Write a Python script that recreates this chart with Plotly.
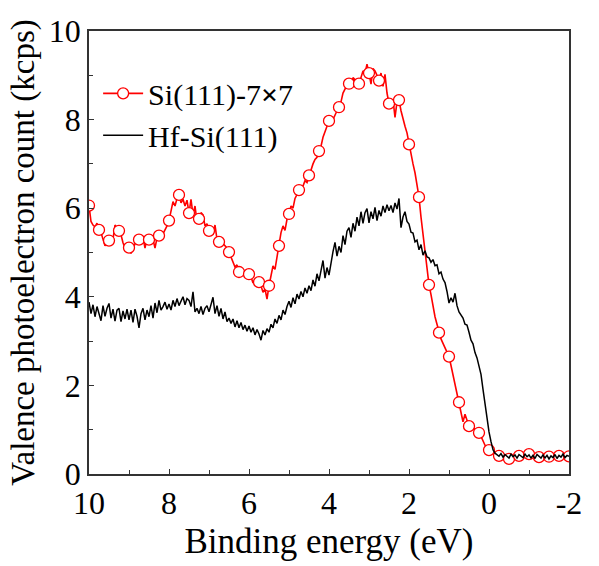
import plotly.graph_objects as go

# Binding energy axis (eV), 0.05 eV steps from 10 down to -2
energy = [round(10 - 0.05 * i, 2) for i in range(241)]

# Si(111)-7x7 (kcps)
si_7x7 = [
    6.06, 5.70, 5.62, 5.58, 5.66, 5.51, 5.45, 5.30, 5.15, 5.22,
    5.27, 5.35, 5.30, 5.62, 5.55, 5.49, 5.40, 5.22, 5.10, 5.18,
    5.11, 4.98, 5.10, 5.22, 5.30, 5.29, 5.20, 5.35, 5.10, 5.32,
    5.29, 5.24, 5.30, 5.10, 5.33, 5.38, 5.45, 5.42, 5.50, 5.60,
    5.72, 5.95, 6.15, 6.05, 6.22, 6.30, 6.12, 6.20, 6.05, 6.18,
    5.89, 6.20, 5.85, 6.05, 5.70, 5.76, 5.90, 5.85, 5.60, 5.65,
    5.49, 5.57, 5.40, 5.62, 5.30, 5.24, 5.28, 5.20, 5.15, 5.10,
    5.01, 4.90, 4.80, 4.67, 4.72, 4.56, 4.60, 4.52, 4.58, 4.48,
    4.51, 4.45, 4.31, 4.38, 4.28, 4.33, 4.25, 4.10, 4.18, 3.95,
    4.25, 4.45, 4.70, 4.62, 4.90, 5.15, 5.45, 5.60, 5.50, 5.75,
    5.87, 6.05, 6.00, 6.22, 6.30, 6.41, 6.48, 6.50, 6.62, 6.58,
    6.74, 6.90, 7.00, 7.10, 7.15, 7.29, 7.40, 7.60, 7.75, 7.85,
    7.97, 8.05, 8.00, 8.12, 8.20, 8.28, 8.40, 8.60, 8.70, 8.78,
    8.81, 8.70, 8.95, 8.90, 8.85, 8.81, 8.95, 9.10, 9.05, 9.25,
    9.05, 8.80, 9.15, 9.10, 9.00, 8.88, 9.05, 8.75, 9.02, 8.60,
    8.36, 8.30, 8.45, 8.05, 8.40, 8.44, 8.20, 8.00, 7.85, 7.70,
    7.44, 7.20, 7.00, 6.80, 6.55, 6.25, 5.80, 5.40, 5.00, 4.65,
    4.27, 4.05, 3.75, 3.55, 3.38, 3.19, 3.05, 2.95, 2.85, 2.72,
    2.65, 2.45, 2.25, 2.05, 1.85, 1.62, 1.40, 1.18, 1.35, 1.20,
    1.08, 1.12, 1.05, 1.00, 0.96, 0.93, 0.85, 0.73, 0.65, 0.58,
    0.54, 0.50, 0.46, 0.44, 0.42, 0.41, 0.43, 0.40, 0.38, 0.36,
    0.34, 0.38, 0.36, 0.40, 0.45, 0.41, 0.44, 0.42, 0.46, 0.43,
    0.45, 0.42, 0.40, 0.43, 0.39, 0.38, 0.36, 0.40, 0.37, 0.41,
    0.39, 0.42, 0.40, 0.38, 0.43, 0.41, 0.39, 0.42, 0.40, 0.38,
    0.40,
]

# Hf-Si(111) (kcps)
hf_si = [
    3.88, 3.62, 3.82, 3.55, 3.78, 3.64, 3.46, 3.80, 3.56, 3.74,
    3.85, 3.52, 3.72, 3.45, 3.70, 3.74, 3.44, 3.68, 3.50, 3.72,
    3.48, 3.70, 3.42, 3.72, 3.56, 3.30, 3.62, 3.74, 3.48, 3.70,
    3.55, 3.80, 3.52, 3.86, 3.64, 3.92, 3.70, 3.78, 3.88, 3.72,
    3.84, 3.70, 3.92, 3.78, 3.96, 3.80, 3.90, 4.00, 3.82, 3.96,
    3.92, 3.78, 4.11, 3.66, 3.74, 3.62, 3.78, 3.60, 3.74, 3.80,
    3.66, 3.86, 3.99, 3.62, 3.80, 3.56, 3.74, 3.50, 3.66, 3.44,
    3.52, 3.40, 3.50, 3.32, 3.46, 3.30, 3.42, 3.26, 3.36, 3.22,
    3.34, 3.20, 3.30, 3.14, 3.26, 3.16, 3.02, 3.24, 3.14, 3.28,
    3.20, 3.38, 3.30, 3.50, 3.40, 3.58, 3.48, 3.70, 3.60, 3.78,
    3.90, 3.76, 3.98, 3.84, 4.06, 3.95, 4.12, 4.00, 4.20, 4.08,
    4.25, 4.14, 4.38, 4.24, 4.52, 4.36, 4.58, 4.82, 4.42, 4.66,
    4.49, 4.78, 5.02, 5.23, 4.92, 5.14, 5.00, 5.38, 5.18, 5.48,
    5.56, 5.34, 5.66, 5.48, 5.80, 5.60, 5.92, 5.66, 5.90, 5.99,
    5.67, 5.92, 5.76, 6.02, 5.72, 5.95, 5.82, 6.05, 5.90, 6.08,
    5.94, 6.06, 5.90, 6.12, 5.98, 6.22, 5.56, 5.80, 5.92, 5.70,
    5.64, 5.46, 5.44, 5.24, 5.28, 5.06, 5.18, 4.94, 5.04, 4.90,
    4.88, 4.78, 4.84, 4.70, 4.72, 4.52, 4.56, 4.40, 4.32, 4.12,
    3.86, 3.98, 3.88, 4.08, 3.80, 3.66, 3.58, 3.52, 3.38, 3.36,
    3.20, 3.02, 2.94, 2.74, 2.62, 2.46, 2.25, 1.91, 1.55, 1.25,
    0.95, 0.73, 0.55, 0.47, 0.44, 0.40, 0.46, 0.38, 0.44, 0.40,
    0.36, 0.45, 0.39, 0.43, 0.36, 0.44, 0.40, 0.37, 0.45, 0.39,
    0.43, 0.36, 0.42, 0.35, 0.44, 0.39, 0.36, 0.43, 0.36, 0.42,
    0.34, 0.41, 0.37, 0.44, 0.35, 0.42, 0.38, 0.45, 0.37, 0.42,
    0.40,
]

marker_every = 5
x_ticks = [10, 8, 6, 4, 2, 0, -2]
x_tick_text = ["10", "8", "6", "4", "2", "0", "-2"]
y_ticks = [0, 2, 4, 6, 8, 10]

RED = "#ff0000"
INK = "#000000"
FONT = "Liberation Serif, serif"

fig = go.Figure()

fig.add_trace(go.Scatter(x=energy, y=si_7x7, mode="lines",
                         line=dict(color=RED, width=1.6),
                         showlegend=False))
fig.add_trace(go.Scatter(x=energy[::marker_every], y=si_7x7[::marker_every],
                         mode="markers",
                         marker=dict(symbol="circle", size=11, color="white",
                                     line=dict(color=RED, width=1.3)),
                         showlegend=False))
fig.add_trace(go.Scatter(x=[None], y=[None], mode="lines+markers",
                         name="Si(111)-7<b>&#215;</b>7",
                         line=dict(color=RED, width=1.6),
                         marker=dict(symbol="circle", size=11, color="white",
                                     line=dict(color=RED, width=1.3))))
fig.add_trace(go.Scatter(x=energy, y=hf_si, mode="lines",
                         name="Hf-Si(111)",
                         line=dict(color="black", width=1.5)))

fig.update_layout(
    width=599, height=566,
    margin=dict(l=89, r=30, t=31, b=83),
    font=dict(family=FONT, size=30, color=INK),
    plot_bgcolor="white",
    showlegend=True,
    legend=dict(x=0.019, y=0.918, xanchor="left", yanchor="top",
                itemwidth=40, bgcolor="rgba(0,0,0,0)",
                font=dict(family=FONT, size=30, color=INK)),
)
fig.update_xaxes(
    range=[10, -2], tickmode="array", tickvals=x_ticks, ticktext=x_tick_text,
    ticks="inside", ticklen=5, tickwidth=1.2, tickcolor="#333",
    minor=dict(dtick=1, ticks="inside", ticklen=4, tickwidth=1.2, tickcolor="#333"),
    showline=True, linecolor="#333", linewidth=1.5, mirror=True,
    showgrid=False, zeroline=False,
    tickfont=dict(family=FONT, size=32, color=INK),
    title=dict(text="Binding energy (eV)", font=dict(family=FONT, size=35, color=INK), standoff=8),
)
fig.update_yaxes(
    range=[0, 10], tickvals=y_ticks,
    ticks="inside", ticklen=5, tickwidth=1.2, tickcolor="#333",
    minor=dict(dtick=1, ticks="inside", ticklen=4, tickwidth=1.2, tickcolor="#333"),
    showline=True, linecolor="#333", linewidth=1.5, mirror=True,
    showgrid=False, zeroline=False,
    tickfont=dict(family=FONT, size=32, color=INK),
    title=dict(text="Valence photoelectron count (kcps)", font=dict(family=FONT, size=33, color=INK), standoff=4),
)

fig.write_html("out.html")
